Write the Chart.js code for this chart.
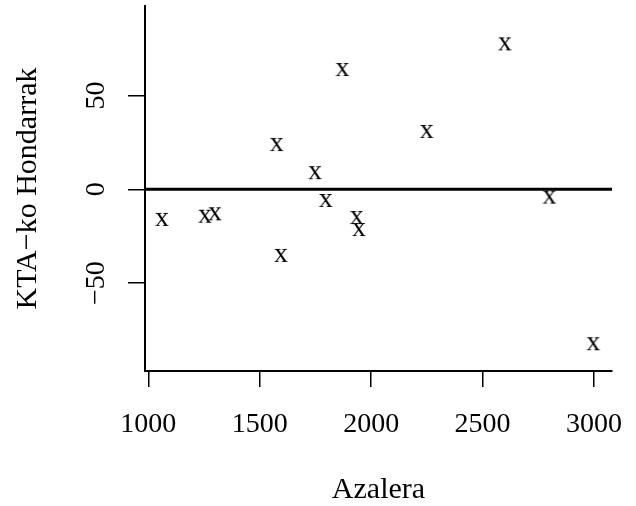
<!DOCTYPE html>
<html>
<head>
<meta charset="utf-8">
<script src="https://cdn.jsdelivr.net/npm/chart.js@4"></script>
<style>
  html, body { margin: 0; padding: 0; background: #fff; }
  canvas { display: block; }
</style>
</head>
<body>
<canvas id="grafico" width="636" height="506"></canvas>
<script>
// datos
const azalera = [1061, 1254, 1299, 1576, 1595, 1748, 1796, 1871, 1935, 1945, 2249, 2600, 2800, 2997];
const hondarrak = [-15.8, -14.1, -12.8, 24.1, -35.0, 9.1, -5.7, 64.1, -14.8, -21.2, 31.1, 77.8, -3.9, -82.1];
const xTicks = [1000, 1500, 2000, 2500, 3000];
const yTicks = [-50, 0, 50];
const xMin = 985, xMax = 3081;
const yMin = -96.9, yMax = 97.7;

const FONT = "'Liberation Serif', 'DejaVu Serif', serif";

// marcador "x" como texto
const marca = document.createElement("canvas");
marca.width = 26; marca.height = 26;
const mctx = marca.getContext("2d");
mctx.font = "28px " + FONT;
mctx.fillStyle = "#000";
mctx.textAlign = "center";
mctx.textBaseline = "alphabetic";
mctx.fillText("x", 13, 19.5);

// etiquetas del eje y giradas (como en R)
const yEtiquetas = {
  id: "yEtiquetas",
  afterDraw(chart) {
    const ctx = chart.ctx;
    const y = chart.scales.y;
    ctx.save();
    ctx.font = "28px " + FONT;
    ctx.fillStyle = "#000";
    ctx.textAlign = "center";
    ctx.textBaseline = "alphabetic";
    yTicks.forEach(v => {
      ctx.save();
      ctx.translate(104, y.getPixelForValue(v));
      ctx.rotate(-Math.PI / 2);
      ctx.fillText(v < 0 ? "\u2212" + Math.abs(v) : String(v), 0, 0);
      ctx.restore();
    });
    ctx.restore();
  }
};

function sinPadding(s) {
  s.paddingLeft = 0; s.paddingRight = 0;
  s.paddingTop = 0; s.paddingBottom = 0;
}

new Chart(document.getElementById("grafico"), {
  type: "scatter",
  data: {
    datasets: [{
      data: azalera.map((a, i) => ({ x: a, y: hondarrak[i] })),
      pointStyle: marca,
      pointRadius: 13
    }, {
      type: "line",
      data: [{ x: xMin, y: 0 }, { x: xMax, y: 0 }],
      borderColor: "#000",
      borderWidth: 3,
      pointRadius: 0
    }]
  },
  options: {
    responsive: false,
    animation: false,
    devicePixelRatio: 1,
    layout: { autoPadding: false, padding: { left: 0, right: 24, top: 6, bottom: 0 } },
    plugins: { legend: { display: false }, tooltip: { enabled: false } },
    scales: {
      x: {
        type: "linear",
        min: xMin, max: xMax,
        afterBuildTicks: s => { s.ticks = xTicks.map(v => ({ value: v })); },
        afterFit: s => { s.height = 135; sinPadding(s); },
        grid: { drawOnChartArea: false, color: "#000", lineWidth: 1.5, tickLength: 16 },
        border: { display: true, color: "#000", width: 2 },
        ticks: {
          color: "#000",
          font: { family: FONT, size: 28 },
          padding: 21,
          maxRotation: 0,
          callback: v => String(v)
        },
        title: {
          display: true,
          text: "Azalera",
          color: "#000",
          font: { family: FONT, size: 30 },
          padding: { top: 0, bottom: -2 }
        }
      },
      y: {
        type: "linear",
        min: yMin, max: yMax,
        afterBuildTicks: s => { s.ticks = yTicks.map(v => ({ value: v })); },
        afterFit: s => { s.width = 145; sinPadding(s); },
        grid: { drawOnChartArea: false, color: "#000", lineWidth: 1.5, tickLength: 17 },
        border: { display: true, color: "#000", width: 2 },
        ticks: { display: false },
        title: {
          display: true,
          text: "KTA\u2212ko Hondarrak",
          color: "#000",
          font: { family: FONT, size: 30 },
          padding: { top: 10, bottom: 0 }
        }
      }
    }
  },
  plugins: [yEtiquetas]
});
</script>
</body>
</html>
